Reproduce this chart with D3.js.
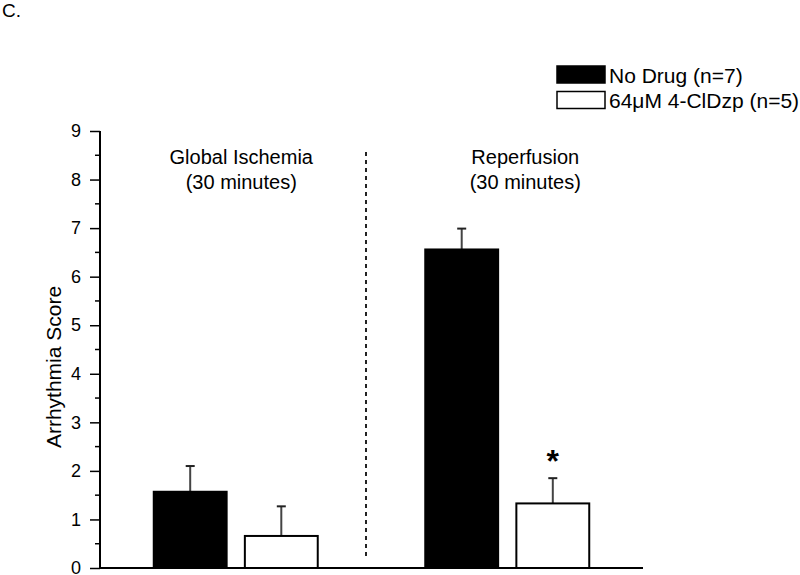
<!DOCTYPE html>
<html>
<head>
<meta charset="utf-8">
<script src="https://cdn.jsdelivr.net/npm/d3@7"></script>
<style>
  body { margin: 0; background: #fff; }
  svg { display: block; font-family: "Liberation Sans", Arial, sans-serif; }
</style>
</head>
<body>
<svg id="chart"></svg>
<script>
const groups = ['Global Ischemia', 'Reperfusion'];
const groupSub = ['(30 minutes)', '(30 minutes)'];
const series = ['No Drug (n=7)', '64\u03bcM 4-ClDzp (n=5)'];
const means = [[1.57, 0.66], [6.56, 1.33]];
const sems = [[0.53, 0.61], [0.43, 0.52]];
const significant = [[false, false], [false, true]];
const yTicks = [0, 1, 2, 3, 4, 5, 6, 7, 8, 9];

const width = 800;
const height = 575;
const margin = { top: 131, right: 157, bottom: 7, left: 100 };

const svg = d3.select('#chart')
  .attr('width', width)
  .attr('height', height);

const innerWidth = width - margin.left - margin.right;
const innerHeight = height - margin.top - margin.bottom;

const y = d3.scaleLinear()
  .domain([0, 9])
  .range([innerHeight, 0]);

const x0 = d3.scaleBand()
  .domain(groups)
  .range([0, innerWidth]);

const half = x0.bandwidth() * 0.302;
const x1 = d3.scaleBand()
  .domain(series)
  .range([x0.bandwidth() / 2 - half, x0.bandwidth() / 2 + half])
  .paddingInner(0.2);

const fills = ['#000', '#fff'];

const g = svg.append('g')
  .attr('transform', `translate(${margin.left},${margin.top})`);

// panel letter
svg.append('text')
  .attr('x', 2)
  .attr('y', 17)
  .attr('font-size', 19)
  .text('C.');

// y axis with minor ticks
const yAxis = d3.axisLeft(y).tickValues(yTicks).tickSize(10).tickPadding(9);
const yg = g.append('g').call(yAxis);
yg.attr('font-family', null);
yg.select('.domain').attr('stroke-width', 2).attr('d', `M0,${innerHeight}V0`);
yg.selectAll('.tick line').attr('stroke-width', 1.5);
yg.selectAll('.tick text').attr('font-size', 18).attr('fill', '#000');

g.append('g')
  .selectAll('line')
  .data(d3.range(0.5, 9, 1))
  .join('line')
  .attr('x1', -5)
  .attr('x2', 0)
  .attr('y1', (d) => y(d))
  .attr('y2', (d) => y(d))
  .attr('stroke', '#000')
  .attr('stroke-width', 1.5);

// x axis line
g.append('line')
  .attr('x1', 0)
  .attr('x2', innerWidth)
  .attr('y1', innerHeight)
  .attr('y2', innerHeight)
  .attr('stroke', '#000')
  .attr('stroke-width', 2);

// y label
svg.append('text')
  .attr('transform', 'translate(61,367) rotate(-90)')
  .attr('text-anchor', 'middle')
  .attr('font-size', 21)
  .text('Arrhythmia Score');

// divider
const divX = x0(groups[1]) - 5.5;
g.append('line')
  .attr('x1', divX)
  .attr('x2', divX)
  .attr('y1', 21)
  .attr('y2', innerHeight - 11)
  .attr('stroke', '#222')
  .attr('stroke-width', 2)
  .attr('stroke-dasharray', '4,4');

// bars
const groupG = g.selectAll('.grp')
  .data(groups)
  .join('g')
  .attr('class', 'grp')
  .attr('transform', (d) => `translate(${x0(d)},0)`);

groupG.each(function (grp, gi) {
  const sel = d3.select(this);
  series.forEach((s, si) => {
    const m = means[gi][si];
    const top = y(m + sems[gi][si]);
    const cx = x1(s) + x1.bandwidth() / 2;
    sel.append('line')
      .attr('x1', cx).attr('x2', cx)
      .attr('y1', y(m)).attr('y2', top)
      .attr('stroke', '#444').attr('stroke-width', 2);
    sel.append('line')
      .attr('x1', cx - 4.5).attr('x2', cx + 4.5)
      .attr('y1', top).attr('y2', top)
      .attr('stroke', '#222').attr('stroke-width', 2);
    sel.append('rect')
      .attr('x', x1(s))
      .attr('y', y(m))
      .attr('width', x1.bandwidth())
      .attr('height', innerHeight - y(m))
      .attr('fill', fills[si])
      .attr('stroke', '#000')
      .attr('stroke-width', 2);
    if (significant[gi][si]) {
      sel.append('text')
        .attr('x', cx)
        .attr('y', top - 6)
        .attr('text-anchor', 'middle')
        .attr('font-size', 32)
        .attr('font-weight', 'bold')
        .text('*');
    }
  });
});

// group labels
const labelShift = [5.5, 18];
groups.forEach((grp, i) => {
  const cx = x0(grp) + x0.bandwidth() / 2 + labelShift[i];
  g.append('text')
    .attr('x', cx).attr('y', 33)
    .attr('text-anchor', 'middle')
    .attr('font-size', 20)
    .text(grp);
  g.append('text')
    .attr('x', cx).attr('y', 58)
    .attr('text-anchor', 'middle')
    .attr('font-size', 20)
    .text(groupSub[i]);
});

// legend
const legend = svg.append('g')
  .attr('transform', 'translate(557,66)');
series.forEach((s, i) => {
  legend.append('rect')
    .attr('x', 0)
    .attr('y', i * 25.5)
    .attr('width', 48)
    .attr('height', 17)
    .attr('fill', fills[i])
    .attr('stroke', '#000')
    .attr('stroke-width', 1.5);
  legend.append('text')
    .attr('x', 52)
    .attr('y', i * 25.5 + 16.5)
    .attr('font-size', 21)
    .text(s);
});
</script>
</body>
</html>
